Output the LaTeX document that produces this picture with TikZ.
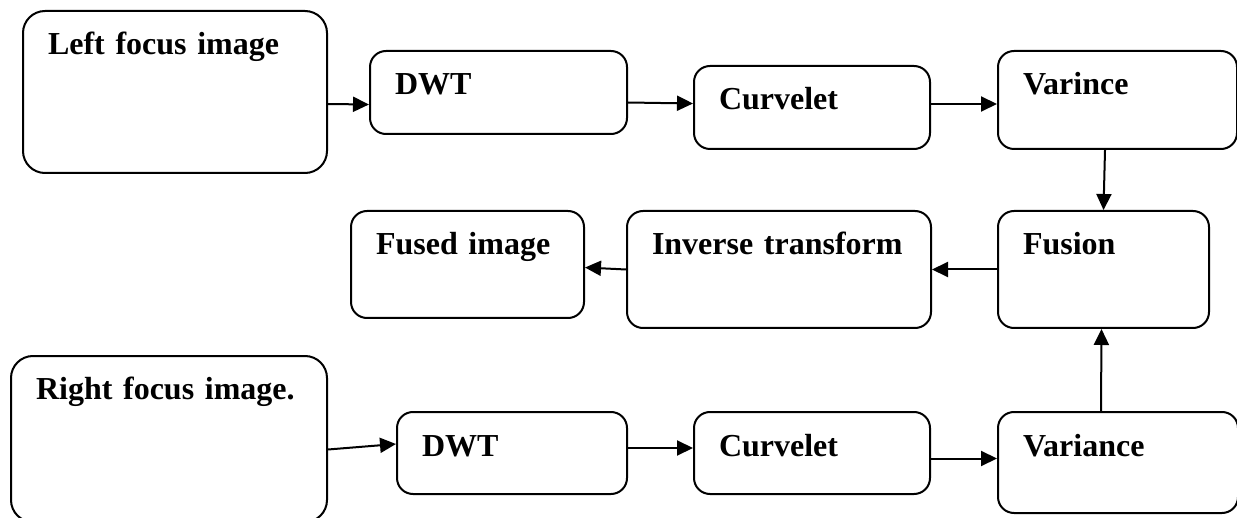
\documentclass[tikz,border=0pt]{standalone}
\usepackage{fontspec}
\setmainfont{Liberation Serif}
\usetikzlibrary{arrows.meta}
\begin{document}
\begin{tikzpicture}[x=0.5pt, y=-0.5pt,
  blk/.style={draw, line width=1pt, rounded corners=8pt, anchor=north west,
    inner xsep=12.5pt, inner ysep=0pt, align=left, text height=22pt,
    font=\fontsize{16pt}{19pt}\selectfont\bfseries},
  arr/.style={line width=1pt, -{Triangle[length=8pt,width=7.5pt]}}]
\useasboundingbox (0,0) rectangle (1237,518);
% top row
\node[blk, rounded corners=11pt, text width=127pt, text depth=59pt] (lfimg) at (22,10) {Left focus image};
\node[blk, text width=103.5pt, text depth=19.5pt] (dwta) at (369,50) {DWT};
\node[blk, text width=93pt, text depth=19.5pt] (curva) at (693,65) {Curvelet};
\node[blk, text width=94.5pt, text depth=27pt] (vara) at (997,50) {Varince};
% middle row
\node[blk, text width=80.5pt, text depth=36.5pt] (fus) at (997,210) {Fusion};
\node[blk, text width=127pt, text depth=36.5pt] (inv) at (626,210) {Inverse transform};
\node[blk, text width=91.5pt, text depth=31.5pt] (fused) at (350,210) {Fused image};
% bottom row
\node[blk, rounded corners=11pt, text width=133pt, text depth=61pt] (rfimg) at (10,355) {Right focus image.};
\node[blk, text width=90pt, text depth=19pt] (dwtb) at (396,411) {DWT};
\node[blk, text width=93pt, text depth=19pt] (curvb) at (693,411) {Curvelet};
\node[blk, text width=95pt, text depth=28.5pt] (varb) at (997,411) {Variance};
% arrows
\draw[arr] ([yshift=-6pt]lfimg.east) -- ([yshift=-6pt]dwta.west);
\draw[arr] ([yshift=-5pt]dwta.east) -- ([yshift=2pt]curva.west);
\draw[arr] ([yshift=1.75pt]curva.east) -- ([yshift=-2pt]vara.west);
\draw[arr] ([xshift=-6.25pt]vara.south) -- (fus.north);
\draw[arr] (fus.west) -- (inv.east);
\draw[arr] (inv.west) -- ([yshift=-1.5pt]fused.east);
\draw[arr] ([yshift=-5.25pt]rfimg.east) -- ([yshift=4.5pt]dwtb.west);
\draw[arr] ([yshift=2.5pt]dwtb.east) -- ([yshift=2.5pt]curvb.west);
\draw[arr] ([yshift=-2.75pt]curvb.east) -- ([yshift=2pt]varb.west);
\draw[arr] ([xshift=-8.5pt]varb.north) -- ([xshift=-1pt]fus.south);
\end{tikzpicture}
\end{document}
